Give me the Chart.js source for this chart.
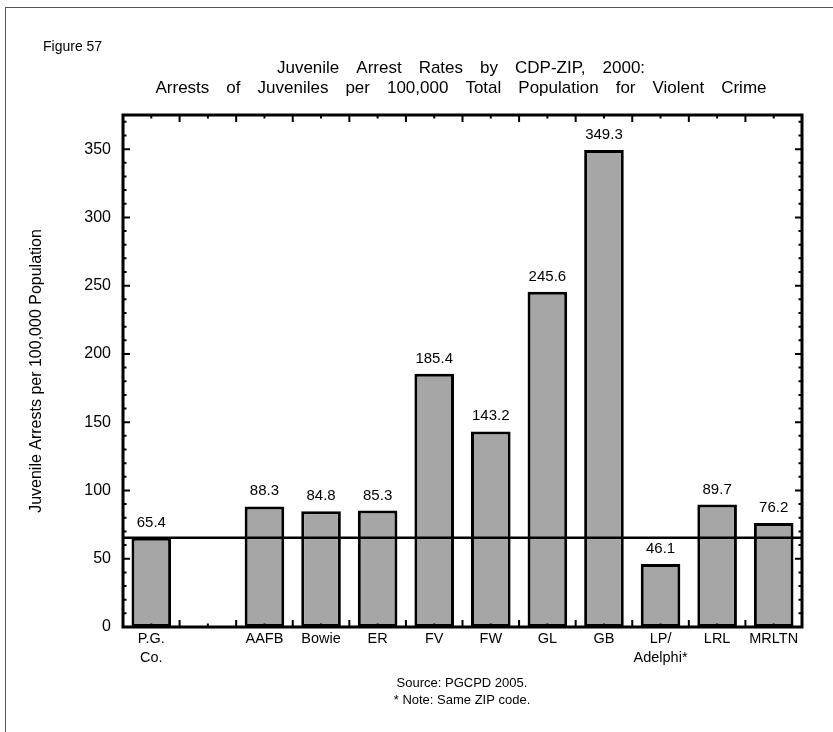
<!DOCTYPE html>
<html>
<head>
<meta charset="utf-8">
<script src="https://cdn.jsdelivr.net/npm/chart.js@4.4.1/dist/chart.umd.min.js"></script>
<style>
  html, body { margin: 0; padding: 0; background: #fff; overflow: hidden; }
  #wrap { width: 833px; height: 732px; position: relative; }
</style>
</head>
<body>
<div id="wrap"><canvas id="c" width="833" height="732"></canvas></div>
<script>
// Juvenile arrest rates for violent crime, per 100,000 total population
const categories = [["P.G.", "Co."], "", "AAFB", "Bowie", "ER", "FV", "FW", "GL", "GB", ["LP/", "Adelphi*"], "LRL", "MRLTN"];
const rates = [65.4, null, 88.3, 84.8, 85.3, 185.4, 143.2, 245.6, 349.3, 46.1, 89.7, 76.2];
const countyRate = 65.4;           // county-wide rate, drawn as a reference line
const yMin = 0;
const yMax = 375;
const yMajorStep = 50;
const yMinorStep = 10;

const figureLabel = "Figure 57";
const titleLines = [
  "Juvenile Arrest Rates by CDP-ZIP, 2000:",
  "Arrests of Juveniles per 100,000 Total Population for Violent Crime"
];
const yAxisTitle = "Juvenile Arrests per 100,000 Population";
const footnotes = ["Source: PGCPD 2005.", "* Note: Same ZIP code."];

const FONT = "'Liberation Sans', Arial, Helvetica, sans-serif";

// Page decorations: background, outer border, figure label, title, footnotes
const pageText = {
  id: 'pageText',
  beforeDraw(chart) {
    const ctx = chart.ctx;
    ctx.save();
    ctx.fillStyle = '#fff';
    ctx.fillRect(0, 0, chart.width, chart.height);
    ctx.strokeStyle = '#555';
    ctx.lineWidth = 1;
    ctx.strokeRect(5.5, 7.5, 840, 760);

    ctx.fillStyle = '#000';
    ctx.textBaseline = 'middle';
    ctx.textAlign = 'left';
    ctx.font = '14px ' + FONT;
    ctx.fillText(figureLabel, 43, 47);

    // title lines with widened word gaps
    ctx.font = '17px ' + FONT;
    const gap = 17;
    const cx = 461;
    titleLines.forEach((line, i) => {
      const words = line.split(' ');
      const widths = words.map(w => ctx.measureText(w).width);
      const total = widths.reduce((a, b) => a + b, 0) + gap * (words.length - 1);
      let x = cx - total / 2;
      const y = 68 + i * 20;
      words.forEach((w, k) => {
        ctx.fillText(w, x, y);
        x += widths[k] + gap;
      });
    });

    ctx.textAlign = 'center';
    ctx.font = '13px ' + FONT;
    footnotes.forEach((t, i) => ctx.fillText(t, 462, 683 + i * 17));
    ctx.restore();
  }
};

// Reference line, value labels, plot frame and inward ticks
const frameAndLabels = {
  id: 'frameAndLabels',
  afterDatasetsDraw(chart) {
    const ctx = chart.ctx;
    const { left, right, top, bottom } = chart.chartArea;
    const xs = chart.scales.x;
    const ys = chart.scales.y;
    ctx.save();

    // county reference line
    const yRef = ys.getPixelForValue(countyRate);
    ctx.strokeStyle = '#000';
    ctx.lineWidth = 2.5;
    ctx.beginPath();
    ctx.moveTo(left, yRef);
    ctx.lineTo(right, yRef);
    ctx.stroke();

    // value labels
    const meta = chart.getDatasetMeta(0);
    ctx.fillStyle = '#000';
    ctx.font = '15px ' + FONT;
    ctx.textAlign = 'center';
    ctx.textBaseline = 'alphabetic';
    meta.data.forEach((bar, i) => {
      const v = rates[i];
      if (v === null || v === undefined) return;
      ctx.fillText(v.toFixed(1), bar.x, bar.y - 11);
    });

    // frame
    ctx.lineWidth = 3;
    ctx.strokeRect(left, top, right - left, bottom - top);

    // y ticks on both sides, pointing inward
    ctx.lineWidth = 2;
    ctx.beginPath();
    for (let v = yMin + yMinorStep; v < yMax; v += yMinorStep) {
      const y = ys.getPixelForValue(v);
      const len = (v % yMajorStep === 0) ? 7 : 3.5;
      ctx.moveTo(left, y); ctx.lineTo(left + len, y);
      ctx.moveTo(right, y); ctx.lineTo(right - len, y);
    }
    // x ticks: major at category boundaries, minor at centres
    const n = categories.length;
    for (let i = 0; i < n; i++) {
      const c = xs.getPixelForValue(i);
      ctx.moveTo(c, top); ctx.lineTo(c, top + 3.5);
      ctx.moveTo(c, bottom); ctx.lineTo(c, bottom - 3.5);
      if (i > 0) {
        const b = (xs.getPixelForValue(i - 1) + c) / 2;
        ctx.moveTo(b, top); ctx.lineTo(b, top + 7);
        ctx.moveTo(b, bottom); ctx.lineTo(b, bottom - 7);
      }
    }
    ctx.stroke();
    ctx.restore();
  }
};

new Chart(document.getElementById('c'), {
  type: 'bar',
  data: {
    labels: categories,
    datasets: [{
      data: rates,
      backgroundColor: '#a6a6a6',
      borderColor: '#000',
      borderWidth: 3,
      borderSkipped: false,
      barPercentage: 0.7,
      categoryPercentage: 1.0
    }]
  },
  options: {
    responsive: false,
    animation: false,
    devicePixelRatio: 1,
    layout: { padding: { top: 115, right: 31, bottom: 0, left: 0 } },
    plugins: {
      legend: { display: false },
      title: { display: false },
      tooltip: { enabled: false }
    },
    scales: {
      x: {
        grid: { display: false, drawTicks: false },
        border: { display: false },
        ticks: {
          color: '#000',
          font: { family: FONT, size: 14.5, lineHeight: 1.3 },
          padding: 3,
          maxRotation: 0,
          autoSkip: false
        },
        afterFit(s) { s.height = 105; }
      },
      y: {
        min: yMin,
        max: yMax,
        grid: { display: false, drawTicks: false },
        border: { display: false },
        ticks: {
          stepSize: yMajorStep,
          includeBounds: false,
          color: '#000',
          font: { family: FONT, size: 16 },
          padding: 12
        },
        title: {
          display: true,
          text: yAxisTitle,
          color: '#000',
          font: { family: FONT, size: 16 },
          padding: { top: 27, bottom: 0 }
        },
        afterFit(s) { s.width = 123; }
      }
    }
  },
  plugins: [pageText, frameAndLabels]
});
</script>
</body>
</html>
